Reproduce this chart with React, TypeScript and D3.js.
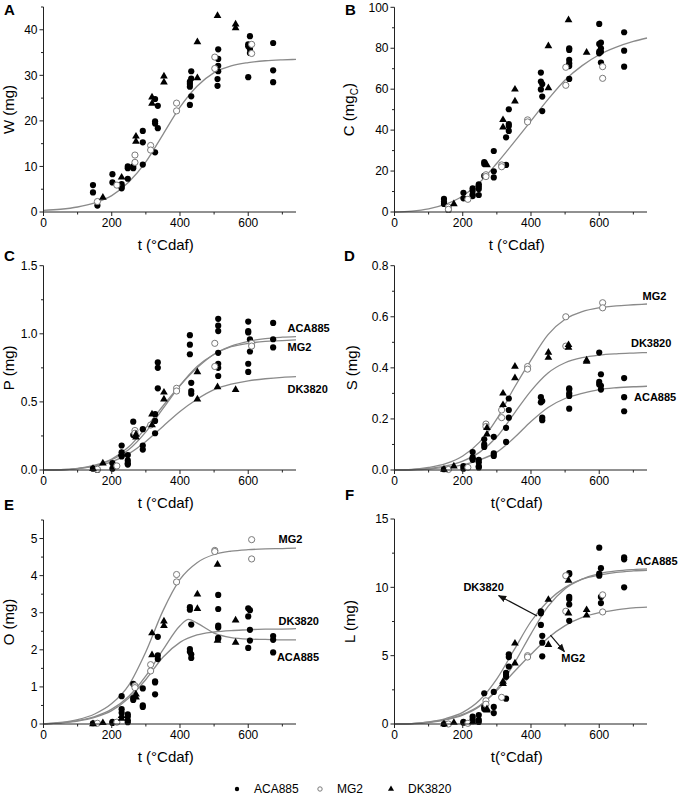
import React from 'react';
import * as d3 from 'd3';

type Obs = [number, number][];

// sampling of the fitted curves
const curveT = [0, 50, 100, 150, 200, 250, 300, 350, 400, 450, 500, 550, 600, 650, 700, 740];
const curveTHump = [0, 50, 100, 150, 200, 250, 300, 350, 400, 425, 450, 500, 550, 600, 650, 700, 740];

// A: W (mg)
const wFit = [0.35, 0.6, 1.1, 2.0, 3.6, 6.6, 11.0, 17.0, 23.0, 27.6, 30.6, 32.1, 32.8, 33.2, 33.4, 33.5];
const wACA: Obs = [[145,5.9],[145,4.3],[158,1.4],[202,8.3],[202,6.5],[229,6.1],[229,5.6],[229,5.2],[247,10.0],[247,9.6],[247,7.3],[263,10.0],[263,9.6],[291,17.8],[291,15.3],[291,10.4],[327,24.8],[327,19.9],[327,19.4],[327,13.1],[335,23.3],[335,18.4],[429,23.5],[429,27.5],[429,28.1],[429,28.6],[433,25.4],[433,29.3],[433,30.9],[512,35.7],[512,33.6],[512,32.1],[512,30.9],[510,29.2],[510,27.7],[600,36.8],[600,36.4],[600,29.6],[605,38.6],[605,35.8],[605,34.9],[673,37.1],[673,31.1],[673,28.5]];
const wMG2: Obs = [[158,2.3],[215,5.9],[268,12.5],[268,10.9],[314,14.6],[314,13.6],[390,23.9],[390,22.2],[502,34.0],[502,31.5],[610,36.8],[610,34.8]];
const wDK: Obs = [[174,3.2],[229,7.6],[271,16.6],[271,15.5],[318,25.2],[318,23.8],[353,29.8],[353,28.5],[451,37.3],[451,29.4],[510,43.1],[563,41.2],[563,40.4]];

// B: C (mgC)
const cFit = [0, 0.4, 1.5, 3.8, 7.8, 14.5, 23.8, 34.0, 44.5, 55.0, 64.5, 71.5, 76.8, 80.5, 83.3, 85.0];
const cACA: Obs = [[145,6.4],[145,5.0],[145,3.9],[158,1.0],[202,9.4],[202,6.7],[229,11.6],[229,10.4],[229,8.6],[229,7.8],[247,13.5],[247,12.4],[247,11.2],[247,8.3],[263,24.4],[263,23.5],[263,17.6],[291,29.8],[291,19.9],[291,16.9],[327,36.5],[327,23.0],[335,50.2],[335,43.0],[335,42.0],[335,39.6],[429,68.1],[429,63.7],[429,59.9],[433,62.5],[433,56.4],[433,49.3],[512,80.0],[512,79.2],[512,74.3],[512,72.6],[512,71.3],[512,65.0],[600,91.9],[600,82.1],[600,78.3],[600,77.5],[605,82.7],[605,80.0],[605,78.3],[605,73.0],[673,87.8],[673,78.8],[673,71.0]];
const cMG2: Obs = [[158,2.4],[158,1.3],[215,6.2],[268,18.2],[268,17.3],[314,23.0],[314,22.1],[390,45.0],[390,44.0],[502,70.7],[502,61.9],[610,71.0],[610,65.3]];
const cDK: Obs = [[174,3.9],[271,23.0],[318,45.0],[318,41.4],[353,59.9],[353,54.1],[451,81.1],[451,60.6],[510,93.8],[563,77.9]];

// C: P (mg)
const pFitACA = [0, 0.002, 0.012, 0.035, 0.08, 0.17, 0.31, 0.47, 0.62, 0.75, 0.85, 0.91, 0.945, 0.965, 0.975, 0.98];
const pFitMG2 = [0, 0.002, 0.01, 0.03, 0.075, 0.15, 0.28, 0.45, 0.62, 0.76, 0.85, 0.905, 0.93, 0.945, 0.95, 0.955];
const pFitDK = [0, 0.002, 0.01, 0.028, 0.06, 0.12, 0.21, 0.32, 0.43, 0.52, 0.59, 0.63, 0.655, 0.67, 0.68, 0.685];
const pACA: Obs = [[145,0.01],[158,0.0],[202,0.05],[202,0.01],[229,0.18],[229,0.13],[229,0.11],[229,0.10],[247,0.11],[247,0.07],[247,0.05],[247,0.04],[263,0.355],[263,0.257],[291,0.30],[291,0.18],[291,0.15],[327,0.41],[327,0.36],[327,0.27],[335,0.79],[335,0.75],[335,0.60],[429,0.99],[429,0.92],[429,0.85],[433,0.64],[433,0.58],[433,0.56],[512,1.11],[512,1.06],[512,1.02],[512,0.86],[512,0.78],[512,0.75],[512,0.69],[600,1.09],[600,1.02],[600,1.01],[600,0.78],[600,0.72],[605,0.96],[605,0.87],[673,1.08],[673,0.96],[673,0.90]];
const pMG2: Obs = [[158,0.005],[215,0.03],[268,0.29],[268,0.27],[314,0.33],[390,0.60],[390,0.58],[502,0.93],[502,0.76],[610,0.93],[610,0.91]];
const pDK: Obs = [[145,0.01],[174,0.05],[229,0.12],[271,0.26],[271,0.24],[318,0.41],[318,0.33],[353,0.57],[353,0.52],[451,0.72],[451,0.52],[510,0.61],[563,0.59]];

// D: S (mg)
const sFitMG2 = [0, 0.002, 0.01, 0.025, 0.055, 0.11, 0.2, 0.32, 0.43, 0.53, 0.59, 0.62, 0.635, 0.643, 0.647, 0.65];
const sFitDK = [0, 0.001, 0.006, 0.016, 0.035, 0.07, 0.13, 0.22, 0.31, 0.38, 0.42, 0.44, 0.45, 0.455, 0.458, 0.46];
const sFitACA = [0, 0.001, 0.004, 0.01, 0.02, 0.04, 0.07, 0.125, 0.19, 0.245, 0.28, 0.3, 0.315, 0.322, 0.326, 0.328];
const sACA: Obs = [[145,0.003],[202,0.015],[202,0.005],[229,0.07],[229,0.05],[229,0.04],[247,0.04],[247,0.03],[247,0.015],[247,0.01],[263,0.12],[263,0.10],[263,0.09],[291,0.13],[291,0.065],[291,0.055],[327,0.165],[327,0.11],[335,0.28],[335,0.235],[335,0.205],[429,0.285],[429,0.265],[433,0.27],[433,0.205],[433,0.195],[512,0.32],[512,0.315],[512,0.30],[512,0.29],[512,0.24],[600,0.46],[600,0.345],[600,0.335],[605,0.375],[605,0.33],[605,0.315],[673,0.36],[673,0.285],[673,0.23]];
const sMG2: Obs = [[158,0.002],[215,0.01],[268,0.18],[268,0.17],[314,0.235],[314,0.205],[390,0.405],[390,0.395],[502,0.60],[502,0.485],[610,0.655],[610,0.635]];
const sDK: Obs = [[145,0.002],[174,0.015],[229,0.05],[271,0.165],[271,0.14],[318,0.30],[318,0.255],[353,0.405],[353,0.36],[451,0.46],[451,0.44],[510,0.49],[510,0.48],[563,0.43],[563,0.425]];

// E: O (mg)
const oFitMG2 = [0, 0.04, 0.12, 0.27, 0.55, 1.05, 1.95, 3.05, 3.9, 4.35, 4.57, 4.66, 4.7, 4.72, 4.73, 4.74];
const oFitACA = [0, 0.03, 0.09, 0.2, 0.4, 0.75, 1.3, 2.0, 2.65, 2.82, 2.72, 2.45, 2.33, 2.29, 2.28, 2.27, 2.27];
const oFitDK = [0, 0.03, 0.08, 0.18, 0.36, 0.7, 1.2, 1.8, 2.2, 2.4, 2.48, 2.52, 2.54, 2.56, 2.56, 2.57];
const oACA: Obs = [[145,0.02],[202,0.06],[202,0.03],[229,0.75],[229,0.40],[229,0.30],[247,0.26],[247,0.20],[247,0.10],[247,0.05],[263,1.08],[263,0.70],[263,0.65],[291,0.96],[291,0.50],[291,0.46],[327,1.15],[327,1.12],[327,0.80],[335,2.35],[335,1.85],[335,1.75],[429,3.15],[429,3.08],[429,2.02],[429,1.95],[433,2.68],[433,1.88],[433,1.78],[512,3.48],[512,3.10],[512,2.65],[512,2.60],[512,2.32],[512,2.30],[600,3.12],[600,2.90],[600,2.05],[605,3.07],[605,2.54],[605,2.25],[673,2.37],[673,2.27],[673,1.93]];
const oMG2: Obs = [[158,0.02],[215,0.05],[268,1.03],[268,0.98],[314,1.60],[314,1.43],[390,4.03],[390,3.83],[502,4.68],[502,4.65],[610,4.97],[610,4.45]];
const oDK: Obs = [[145,0.0],[174,0.03],[229,0.22],[229,0.15],[271,0.80],[271,0.72],[318,2.45],[318,1.86],[353,2.77],[353,2.65],[451,3.50],[451,3.11],[510,4.30],[510,2.25],[563,2.80],[563,2.20]];

// F: L (mg)
const lFitDK = [0, 0.03, 0.15, 0.4, 0.85, 1.75, 3.3, 5.4, 7.5, 9.0, 10.0, 10.6, 10.9, 11.1, 11.2, 11.25];
const lFitACA = [0, 0.02, 0.1, 0.3, 0.65, 1.3, 2.55, 4.4, 6.6, 8.6, 9.9, 10.6, 11.0, 11.2, 11.3, 11.35];
const lFitMG2 = [0, 0.03, 0.13, 0.33, 0.7, 1.35, 2.45, 3.8, 5.1, 6.3, 7.2, 7.8, 8.15, 8.35, 8.5, 8.55];
const lACA: Obs = [[145,0.0],[202,0.15],[202,0.1],[229,0.55],[229,0.35],[229,0.2],[247,0.65],[247,0.3],[247,0.15],[263,2.25],[263,1.25],[263,1.1],[291,2.35],[291,1.25],[291,0.8],[327,3.75],[327,3.6],[327,3.45],[327,1.85],[335,5.1],[335,4.9],[335,4.2],[429,8.25],[429,8.1],[429,7.25],[433,6.45],[433,5.95],[433,4.95],[512,11.05],[512,10.95],[512,9.3],[512,9.15],[512,8.75],[512,7.55],[600,12.9],[600,11.0],[600,10.85],[605,11.4],[605,9.3],[605,8.85],[673,12.2],[673,12.05],[673,10.0]];
const lMG2: Obs = [[158,0.0],[215,0.05],[268,1.7],[268,1.45],[314,1.95],[390,5.0],[390,4.9],[502,10.85],[502,8.25],[610,9.45],[610,8.2]];
const lDK: Obs = [[145,0.0],[174,0.1],[229,0.15],[271,1.1],[271,1.0],[318,3.1],[318,2.95],[353,5.9],[353,4.45],[451,9.1],[451,5.8],[510,10.5],[510,8.1],[563,8.35],[563,7.95]];

const genotypes = ['ACA885', 'MG2', 'DK3820'];

interface Curve { t: number[]; v: number[]; }
interface Note { text: string; t: number; v: number; arrow?: [number, number, number, number]; }
interface Panel {
  letter: string; yLabel: string; xLabel: string; yMax: number; major: number; minor: number; fmt: string;
  aca: Obs; mg2: Obs; dk: Obs; curves: Curve[]; notes: Note[];
  left: number; top: number; bottom: number; titleDx: number; letterX: number; letterY: number;
}

const W = 252.5;
const XMAX = 740;

const panels: Panel[] = [
  { letter: 'A', yLabel: 'W (mg)', xLabel: 't (°Cdaf)', yMax: 45, major: 10, minor: 5, fmt: 'd',
    aca: wACA, mg2: wMG2, dk: wDK, curves: [{ t: curveT, v: wFit }], notes: [],
    left: 43.5, top: 7, bottom: 212, titleDx: -30, letterX: 4, letterY: 15 },
  { letter: 'B', yLabel: 'C (mgC)', xLabel: 't (°Cdaf)', yMax: 100, major: 20, minor: 10, fmt: 'd',
    aca: cACA, mg2: cMG2, dk: cDK, curves: [{ t: curveT, v: cFit }], notes: [],
    left: 394.5, top: 7.3, bottom: 212, titleDx: -41, letterX: 345, letterY: 15 },
  { letter: 'C', yLabel: 'P (mg)', xLabel: 't (°Cdaf)', yMax: 1.5, major: 0.5, minor: 0.25, fmt: '.1f',
    aca: pACA, mg2: pMG2, dk: pDK,
    curves: [{ t: curveT, v: pFitACA }, { t: curveT, v: pFitMG2 }, { t: curveT, v: pFitDK }],
    notes: [{ text: 'ACA885', t: 715, v: 1.045 }, { text: 'MG2', t: 715, v: 0.9 }, { text: 'DK3820', t: 715, v: 0.595 }],
    left: 43.5, top: 265.7, bottom: 470, titleDx: -30, letterX: 4, letterY: 261 },
  { letter: 'D', yLabel: 'S (mg)', xLabel: 't(°Cdaf)', yMax: 0.8, major: 0.2, minor: 0.1, fmt: '.1f',
    aca: sACA, mg2: sMG2, dk: sDK,
    curves: [{ t: curveT, v: sFitMG2 }, { t: curveT, v: sFitDK }, { t: curveT, v: sFitACA }],
    notes: [{ text: 'MG2', t: 727, v: 0.68 }, { text: 'DK3820', t: 693, v: 0.495 }, { text: 'ACA885', t: 702, v: 0.285 }],
    left: 394.5, top: 265.7, bottom: 470, titleDx: -38, letterX: 344, letterY: 261 },
  { letter: 'E', yLabel: 'O (mg)', xLabel: 't (°Cdaf)', yMax: 5.5, major: 1, minor: 0.5, fmt: 'd',
    aca: oACA, mg2: oMG2, dk: oDK,
    curves: [{ t: curveT, v: oFitMG2 }, { t: curveTHump, v: oFitACA }, { t: curveT, v: oFitDK }],
    notes: [{ text: 'MG2', t: 689, v: 4.99 }, { text: 'DK3820', t: 689, v: 2.78 }, { text: 'ACA885', t: 684, v: 1.8 }],
    left: 43.5, top: 520, bottom: 724, titleDx: -30, letterX: 4, letterY: 510 },
  { letter: 'F', yLabel: 'L (mg)', xLabel: 't(°Cdaf)', yMax: 15, major: 5, minor: 2.5, fmt: 'd',
    aca: lACA, mg2: lMG2, dk: lDK,
    curves: [{ t: curveT, v: lFitDK }, { t: curveT, v: lFitACA }, { t: curveT, v: lFitMG2 }],
    notes: [
      { text: 'ACA885', t: 706, v: 11.9 },
      { text: 'DK3820', t: 202, v: 10.05, arrow: [418, 7.9, 305, 9.4] },
      { text: 'MG2', t: 489, v: 4.8, arrow: [457, 6.5, 498, 5.3] },
    ],
    left: 394.5, top: 519, bottom: 724, titleDx: -40, letterX: 345, letterY: 500 },
];

const FONT = 'Liberation Sans, Arial, sans-serif';
const AXIS = '#222';
const FIT = '#8a8a8a';

const PanelView = ({ p }: { p: Panel }) => {
  const x = d3.scaleLinear().domain([0, XMAX]).range([p.left, p.left + W]);
  const y = d3.scaleLinear().domain([0, p.yMax]).range([p.bottom, p.top]);
  const line = d3.line<[number, number]>().x(d => x(d[0])).y(d => y(d[1])).curve(d3.curveMonotoneX);
  const fmt = d3.format(p.fmt);
  const xMajor = d3.range(0, XMAX + 1, 200);
  const xMinor = d3.range(100, XMAX + 1, 200);
  const yMajor = d3.range(0, p.yMax + 1e-9, p.major);
  const yMinor = d3.range(p.minor, p.yMax + 1e-9, p.major);
  const tri = d3.symbol(d3.symbolTriangle, 26)() || '';
  const midY = (p.top + p.bottom) / 2;
  const tx = p.left + p.titleDx;
  return (
    <g fontFamily={FONT}>
      {p.curves.map((c, i) => (
        <path key={i} d={line(c.t.map((t, j) => [t, c.v[j]] as [number, number])) || ''}
          fill="none" stroke={FIT} strokeWidth={1.3} />
      ))}
      {p.aca.map((d, i) => <circle key={'a' + i} cx={x(d[0])} cy={y(d[1])} r={3.1} fill="#000" />)}
      {p.mg2.map((d, i) => <circle key={'m' + i} cx={x(d[0])} cy={y(d[1])} r={3.1} fill="#fff" stroke="#7a7a7a" strokeWidth={1} />)}
      {p.dk.map((d, i) => <path key={'k' + i} d={tri} transform={`translate(${x(d[0])},${y(d[1])})`} fill="#000" />)}
      <line x1={p.left} x2={p.left + W} y1={p.bottom} y2={p.bottom} stroke={AXIS} />
      <line x1={p.left} x2={p.left} y1={p.top} y2={p.bottom} stroke={AXIS} />
      {xMajor.map(t => (
        <g key={'xt' + t}>
          <line x1={x(t)} x2={x(t)} y1={p.bottom} y2={p.bottom + 4} stroke={AXIS} />
          <text x={x(t)} y={p.bottom + 15} textAnchor="middle" fontSize={12}>{t}</text>
        </g>
      ))}
      {xMinor.map(t => <line key={'xm' + t} x1={x(t)} x2={x(t)} y1={p.bottom} y2={p.bottom + 2.5} stroke={AXIS} />)}
      {yMajor.map(v => (
        <g key={'yt' + v}>
          <line x1={p.left - 4} x2={p.left} y1={y(v)} y2={y(v)} stroke={AXIS} />
          <text x={p.left - 6} y={y(v)} dy="0.35em" textAnchor="end" fontSize={12}>{fmt(v)}</text>
        </g>
      ))}
      {yMinor.map(v => <line key={'ym' + v} x1={p.left - 2.5} x2={p.left} y1={y(v)} y2={y(v)} stroke={AXIS} />)}
      <text x={p.left + W / 2 - 4} y={p.bottom + 38} textAnchor="middle" fontSize={15}>{p.xLabel}</text>
      {p.letter === 'B' ? (
        <text transform={`translate(${tx},${midY}) rotate(-90)`} textAnchor="middle" fontSize={15}>
          C (mg<tspan fontSize={10} dy={4}>C</tspan><tspan dy={-4}>)</tspan>
        </text>
      ) : (
        <text transform={`translate(${tx},${midY}) rotate(-90)`} textAnchor="middle" fontSize={15}>{p.yLabel}</text>
      )}
      <text x={p.letterX} y={p.letterY} fontSize={15} fontWeight="bold">{p.letter}</text>
      {p.notes.map((n, i) => (
        <g key={'n' + i}>
          <text x={x(n.t)} y={y(n.v)} dy="0.35em" fontSize={11} fontWeight="bold">{n.text}</text>
          {n.arrow && (
            <line x1={x(n.arrow[0])} y1={y(n.arrow[1])} x2={x(n.arrow[2])} y2={y(n.arrow[3])}
              stroke="#111" strokeWidth={1.2} markerEnd="url(#arrowHead)" />
          )}
        </g>
      ))}
    </g>
  );
};

const App = () => {
  const legendX = [237, 320, 391];
  const tri = d3.symbol(d3.symbolTriangle, 16)() || '';
  return (
    <svg width={680} height={796} style={{ position: 'absolute', left: 0, top: 0, background: '#fff' }}>
      <defs>
        <marker id="arrowHead" viewBox="0 0 10 10" refX="9" refY="5" markerWidth="7" markerHeight="7" orient="auto">
          <path d="M0,1 L10,5 L0,9 Z" fill="#111" />
        </marker>
      </defs>
      {panels.map(p => <PanelView key={p.letter} p={p} />)}
      <g fontFamily={FONT} fontSize={12}>
        {genotypes.map((g, i) => (
          <g key={g}>
            {i === 0 && <circle cx={legendX[i]} cy={789} r={2.2} fill="#000" />}
            {i === 1 && <circle cx={legendX[i]} cy={789} r={2.2} fill="#fff" stroke="#7a7a7a" />}
            {i === 2 && <path d={tri} transform={`translate(${legendX[i]},789)`} fill="#000" />}
            <text x={legendX[i] + 17} y={789} dy="0.35em">{g}</text>
          </g>
        ))}
      </g>
    </svg>
  );
};

export default App;
